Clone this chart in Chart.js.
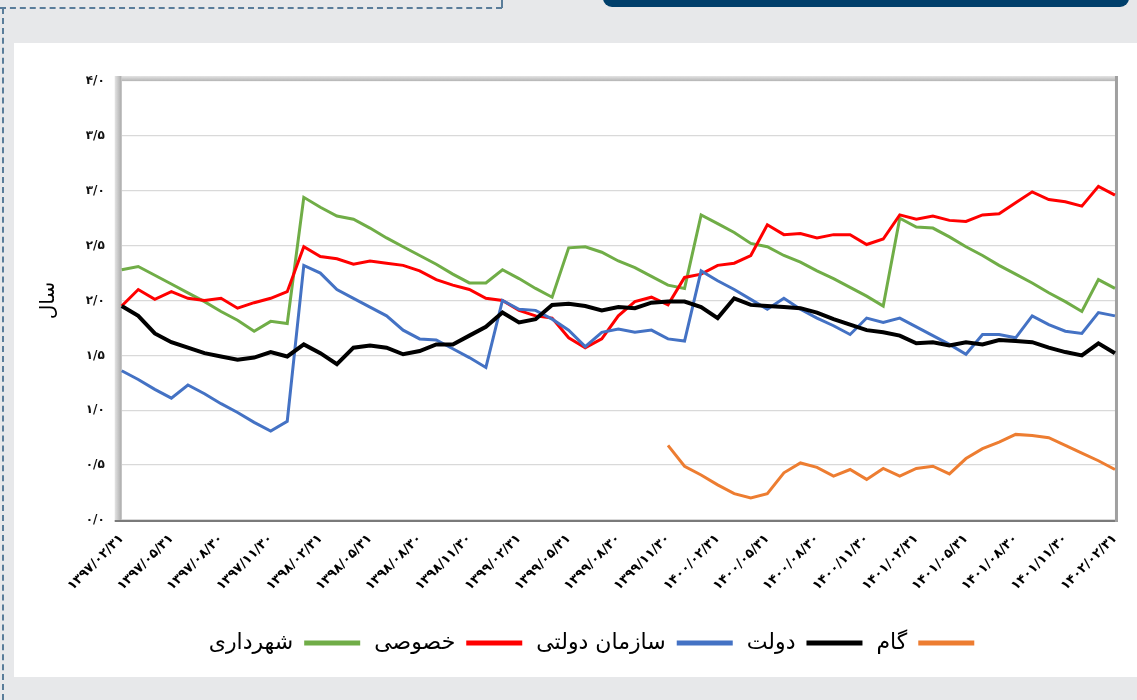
<!DOCTYPE html>
<html lang="fa">
<head>
<meta charset="utf-8">
<title>سال</title>
<script src="https://cdn.jsdelivr.net/npm/chart.js@4.4.0/dist/chart.umd.min.js"></script>
<style>
    html, body { margin: 0; padding: 0; }
    body {
        width: 1137px; height: 700px; overflow: hidden; position: relative;
        background: #e7e8ea; font-family: 'DejaVu Sans', sans-serif;
    }
    .dash-top { position: absolute; left: 0; top: 7px; width: 502px; border-top: 2px dashed #5a7d9a; }
    .dash-right { position: absolute; left: 501px; top: 0; height: 8px; border-left: 2px dashed #5a7d9a; }
    .dash-left { position: absolute; left: 2px; top: 8px; height: 692px; border-left: 2px dashed #5a7d9a; }
    .navy { position: absolute; left: 603px; top: -10px; width: 526px; height: 17px; background: #003f6b; border-radius: 0 0 9px 9px; }
    .card { position: absolute; left: 14px; top: 43px; width: 1123px; height: 634px; background: #fff; }
    #chart { position: absolute; left: 0; top: 0; }
</style>
</head>
<body>
<div class="dash-top"></div>
<div class="dash-right"></div>
<div class="dash-left"></div>
<div class="navy"></div>
<div class="card"><canvas id="chart" width="1123" height="634"></canvas></div>
<script>
// monthly dates (Persian calendar), one point per month
const months = [
    '1397/02/31', '1397/03/31', '1397/04/31', '1397/05/31', '1397/06/31', '1397/07/30', '1397/08/30', '1397/09/30', '1397/10/30', '1397/11/30', '1397/12/29',
    '1398/01/31', '1398/02/31', '1398/03/31', '1398/04/31', '1398/05/31', '1398/06/31', '1398/07/30', '1398/08/30', '1398/09/30', '1398/10/30', '1398/11/30', '1398/12/29',
    '1399/01/31', '1399/02/31', '1399/03/31', '1399/04/31', '1399/05/31', '1399/06/31', '1399/07/30', '1399/08/30', '1399/09/30', '1399/10/30', '1399/11/30', '1399/12/30',
    '1400/01/31', '1400/02/31', '1400/03/31', '1400/04/31', '1400/05/31', '1400/06/31', '1400/07/30', '1400/08/30', '1400/09/30', '1400/10/30', '1400/11/30', '1400/12/29',
    '1401/01/31', '1401/02/31', '1401/03/31', '1401/04/31', '1401/05/31', '1401/06/31', '1401/07/30', '1401/08/30', '1401/09/30', '1401/10/30', '1401/11/30', '1401/12/29',
    '1402/01/31', '1402/02/31'
];

const gamValues = [
    null, null, null, null, null, null, null, null, null, null,
    null, null, null, null, null, null, null, null, null, null,
    null, null, null, null, null, null, null, null, null, null,
    null, null, null, 0.68, 0.49, 0.41, 0.32, 0.24, 0.20, 0.24,
    0.43, 0.52, 0.48, 0.40, 0.46, 0.37, 0.47, 0.40, 0.47, 0.49,
    0.42, 0.56, 0.65, 0.71, 0.78, 0.77, 0.75, 0.68, 0.61, 0.54, 0.46
];

const dolatValues = [
    1.95, 1.86, 1.70, 1.62, 1.57, 1.52, 1.49, 1.46, 1.48, 1.53,
    1.49, 1.60, 1.52, 1.42, 1.57, 1.59, 1.57, 1.51, 1.54, 1.60,
    1.60, 1.68, 1.76, 1.89, 1.80, 1.83, 1.96, 1.97, 1.95, 1.91,
    1.94, 1.93, 1.98, 1.99, 1.99, 1.94, 1.84, 2.02, 1.96, 1.95,
    1.94, 1.93, 1.89, 1.83, 1.78, 1.73, 1.71, 1.68, 1.61, 1.62,
    1.59, 1.62, 1.60, 1.64, 1.63, 1.62, 1.57, 1.53, 1.50, 1.61, 1.52
];

const sazmanValues = [
    1.36, 1.28, 1.19, 1.11, 1.23, 1.15, 1.06, 0.98, 0.89, 0.81,
    0.90, 2.32, 2.25, 2.10, 2.02, 1.94, 1.86, 1.73, 1.65, 1.64,
    1.56, 1.48, 1.39, 2.00, 1.92, 1.91, 1.83, 1.73, 1.58, 1.71,
    1.74, 1.71, 1.73, 1.65, 1.63, 2.27, 2.18, 2.10, 2.01, 1.92,
    2.02, 1.92, 1.84, 1.77, 1.69, 1.84, 1.80, 1.84, 1.76, 1.68,
    1.60, 1.51, 1.69, 1.69, 1.66, 1.86, 1.78, 1.72, 1.70, 1.89, 1.86
];

const khososiValues = [
    1.95, 2.10, 2.01, 2.08, 2.02, 2.00, 2.02, 1.93, 1.98, 2.02,
    2.08, 2.49, 2.40, 2.38, 2.33, 2.36, 2.34, 2.32, 2.27, 2.19,
    2.14, 2.10, 2.02, 2.00, 1.91, 1.86, 1.84, 1.66, 1.57, 1.65,
    1.86, 1.99, 2.03, 1.96, 2.21, 2.24, 2.32, 2.34, 2.41, 2.69,
    2.60, 2.61, 2.57, 2.60, 2.60, 2.51, 2.56, 2.78, 2.74, 2.77,
    2.73, 2.72, 2.78, 2.79, 2.89, 2.99, 2.92, 2.90, 2.86, 3.04, 2.96
];

const shahrdariValues = [
    2.28, 2.31, 2.23, 2.15, 2.07, 1.99, 1.90, 1.82, 1.72, 1.81,
    1.79, 2.94, 2.85, 2.77, 2.74, 2.66, 2.57, 2.49, 2.41, 2.33,
    2.24, 2.16, 2.16, 2.28, 2.20, 2.11, 2.03, 2.48, 2.49, 2.44,
    2.36, 2.30, 2.22, 2.14, 2.11, 2.78, 2.70, 2.62, 2.52, 2.49,
    2.41, 2.35, 2.27, 2.20, 2.12, 2.04, 1.95, 2.75, 2.67, 2.66,
    2.58, 2.49, 2.41, 2.32, 2.24, 2.16, 2.07, 1.99, 1.90, 2.19, 2.11
];

const FONT = "'DejaVu Sans', sans-serif";

function toFa(s) {
    return String(s).replace(/\d/g, d => '۰۱۲۳۴۵۶۷۸۹'[d]);
}

// gray plot-area frame with a soft shadow on the left/top, like the Excel original
const plotFrame = {
    id: 'plotFrame',
    beforeDatasetsDraw(chart) {
        const { ctx, chartArea: a } = chart;
        ctx.save();
        let g = ctx.createLinearGradient(a.left - 7, 0, a.left, 0);
        g.addColorStop(0, '#e4e4e4');
        g.addColorStop(1, '#a9a9a9');
        ctx.fillStyle = g;
        ctx.fillRect(a.left - 7, a.top - 5, 7, a.bottom - a.top + 6);
        g = ctx.createLinearGradient(0, a.top - 5, 0, a.top);
        g.addColorStop(0, '#e4e4e4');
        g.addColorStop(1, '#b5b5b5');
        ctx.fillStyle = g;
        ctx.fillRect(a.left, a.top - 5, a.right - a.left + 2, 5);
        ctx.fillStyle = '#7a7a7a';
        ctx.fillRect(a.left - 7, a.bottom, a.right - a.left + 10, 2);
        ctx.fillStyle = '#a0a0a0';
        ctx.fillRect(a.right, a.top - 5, 3, a.bottom - a.top + 7);
        ctx.restore();
    }
};

function line(label, data, color, width) {
    return {
        label: label,
        data: data,
        borderColor: color,
        backgroundColor: color,
        borderWidth: width,
        pointRadius: 0,
        pointHoverRadius: 0,
        tension: 0,
        spanGaps: false
    };
}

new Chart(document.getElementById('chart'), {
    type: 'line',
    data: {
        labels: months,
        datasets: [
            line('گام', gamValues, '#ed7d31', 3),
            line('دولت', dolatValues, '#000000', 4),
            line('سازمان دولتی', sazmanValues, '#4472c4', 3),
            line('خصوصی', khososiValues, '#ff0000', 3),
            line('شهرداری', shahrdariValues, '#70ad47', 3)
        ]
    },
    options: {
        responsive: false,
        animation: false,
        layout: { padding: { left: 54, right: 22, top: 38, bottom: 13 } },
        plugins: {
            tooltip: { enabled: false },
            legend: {
                position: 'bottom',
                rtl: true,
                textDirection: 'rtl',
                labels: {
                    boxWidth: 56,
                    boxHeight: 5,
                    padding: 14,
                    color: '#000',
                    font: { family: FONT, size: 22 },
                    generateLabels: chart =>
                        Chart.defaults.plugins.legend.labels.generateLabels(chart)
                            .map(item => Object.assign(item, { lineWidth: 0 }))
                }
            }
        },
        scales: {
            x: {
                offset: false,
                grid: { display: false, drawTicks: false },
                border: { display: false },
                afterFit: scale => { scale.height = 98; },
                ticks: {
                    autoSkip: false,
                    maxRotation: 45,
                    minRotation: 45,
                    padding: 11,
                    color: '#000',
                    font: { family: FONT, size: 13, weight: 'bold' },
                    callback: (value, index) => index % 3 === 0 ? toFa(months[index]) : ''
                }
            },
            y: {
                min: 0,
                max: 4,
                afterFit: scale => { scale.width = 53.7; },
                grid: { color: '#d9d9d9', lineWidth: 1.3, drawTicks: false },
                border: { display: false },
                title: {
                    display: true,
                    text: 'سال',
                    color: '#000',
                    font: { family: FONT, size: 20 },
                    padding: { top: -31, bottom: 0 }
                },
                ticks: {
                    stepSize: 0.5,
                    padding: 17,
                    color: '#111',
                    font: { family: FONT, size: 12, weight: 'bold' },
                    callback: value => toFa(value.toFixed(1).replace('.', '/'))
                }
            }
        }
    },
    plugins: [plotFrame]
});
</script>
</body>
</html>
